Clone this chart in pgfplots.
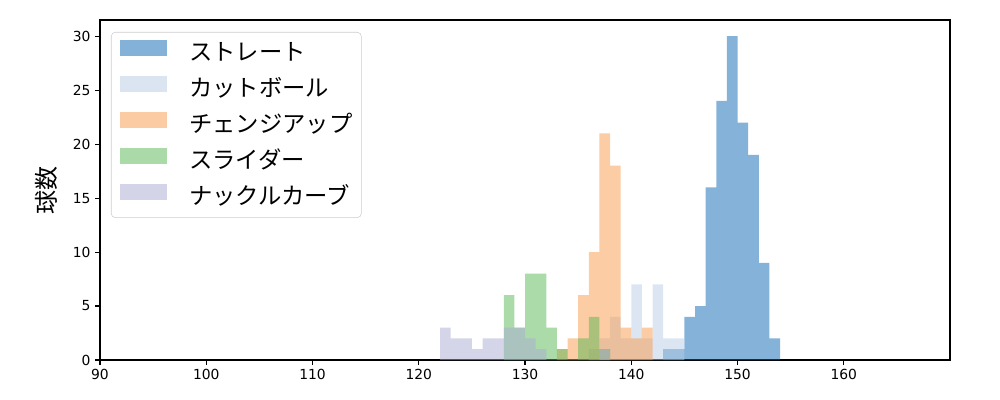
\documentclass[border=0pt]{standalone}
\usepackage{fontspec}
\setmainfont{DejaVu Sans}
\newfontfamily\cjk{Noto Sans CJK JP}
\usepackage{pgfplots}
\pgfplotsset{compat=1.18}

\definecolor{cStraight}{RGB}{9,101,177}
\definecolor{cCutter}{RGB}{185,205,229}
\definecolor{cChange}{RGB}{249,153,73}
\definecolor{cSlider}{RGB}{87,183,81}
\definecolor{cKnuckle}{RGB}{171,171,213}

\pgfplotsset{
  hist/.style={ybar interval, draw=none, fill=#1, fill opacity=0.5,
    legend image code/.code={\fill[#1, fill opacity=0.5, sharp corners] (0pt,-0.5pt) rectangle (35pt,11.5pt);}},
}

\begin{document}
\begin{tikzpicture}
\begin{axis}[
  name=ax,
  scale only axis,
  width=637.5pt, height=255pt,
  xmin=90, xmax=170,
  ymin=0, ymax=31.5,
  xtick={90,100,...,160},
  ytick={0,5,...,30},
  xtick pos=bottom, ytick pos=left,
  tick align=outside,
  major tick length=3.6pt,
  tick style={black, line width=0.8pt},
  axis line style={black, line width=0.8pt},
  /pgf/number format/assume math mode=true,
  tick label style={font=\fontsize{10.4}{12}\selectfont},
  ylabel={\cjk 球数},
  ylabel style={font=\fontsize{18}{20}\selectfont, at={(axis description cs:-0.063,0.5)}, anchor=center},
  legend style={at={(0,1)}, anchor=north west, xshift=8.25pt, yshift=-9pt,
    draw=black!20, rounded corners=3pt, fill=white,
    font=\cjk\fontsize{17.5}{20}\selectfont,
    inner xsep=6.5pt, inner ysep=5.5pt,
    row sep=7pt, column sep=0pt,
    nodes={inner sep=0pt, text height=13pt, text depth=4pt}},
  legend cell align=left,
]
\addplot[hist=cStraight] coordinates {
  (143,1)(144,1)(145,4)(146,5)(147,16)(148,24)(149,30)(150,22)(151,19)(152,9)(153,2)(154,0)
};
\addplot[hist=cCutter] coordinates {
  (136,1)(137,2)(138,4)(139,2)(140,7)(141,2)(142,7)(143,2)(144,2)(145,0)
};
\addplot[hist=cChange] coordinates {
  (133,1)(134,2)(135,6)(136,10)(137,21)(138,18)(139,3)(140,2)(141,3)(142,0)
};
\addplot[hist=cSlider] coordinates {
  (128,6)(129,3)(130,8)(131,8)(132,3)(133,1)(134,0)(135,2)(136,4)(137,1)(138,0)
};
\addplot[hist=cKnuckle] coordinates {
  (122,3)(123,2)(124,2)(125,1)(126,2)(127,2)(128,3)(129,3)(130,2)(131,1)(132,0)
  (133,0)(134,0)(135,0)(136,0)(137,1)(138,0)
};
\legend{\hspace{17pt}ストレート,\hspace{17pt}カットボール,\hspace{17pt}チェンジアップ,\hspace{17pt}スライダー,\hspace{17pt}ナックルカーブ}
\end{axis}
\pgfresetboundingbox
\path[use as bounding box] ([xshift=-75pt,yshift=-30pt]ax.south west) rectangle ([xshift=37.5pt,yshift=15pt]ax.north east);
\end{tikzpicture}
\end{document}
